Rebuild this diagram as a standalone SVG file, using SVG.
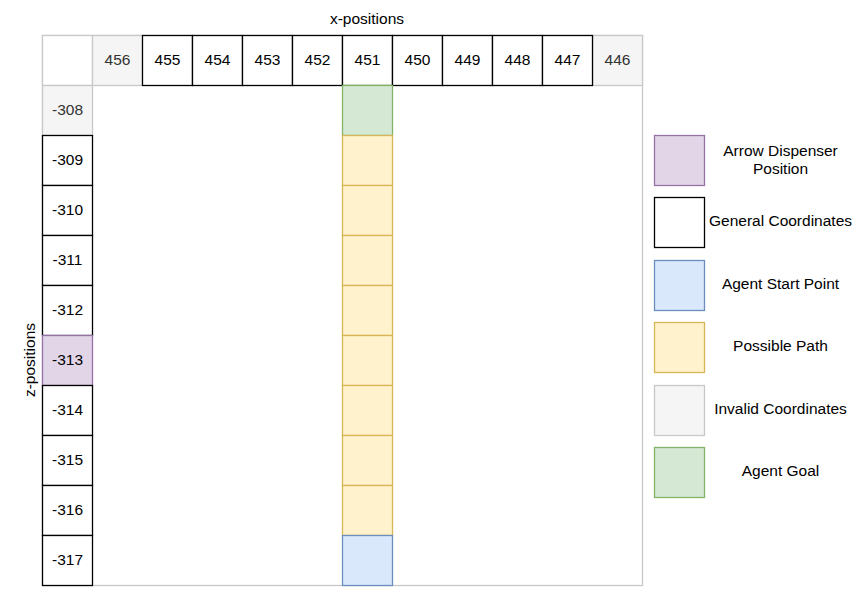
<svg xmlns="http://www.w3.org/2000/svg" width="858" height="595" viewBox="0 0 858 595">
<style>
text{font-family:"Liberation Sans",Arial,sans-serif;font-size:15.5px;fill:#000;text-anchor:middle}
.gen{fill:#ffffff;stroke:#000000;stroke-width:1.3}
.inv{fill:#f5f5f5;stroke:#c8c8c8;stroke-width:1.3}
.invt{fill:#333333}
.pur{fill:#e1d5e7;stroke:#9673a6;stroke-width:1.3}
.grn{fill:#d5e8d4;stroke:#82b366;stroke-width:1.3}
.yel{fill:#fff2cc;stroke:#d6b656;stroke-width:1.3}
.blu{fill:#dae8fc;stroke:#6c8ebf;stroke-width:1.3}
.frame{fill:#ffffff;stroke:#c8c8c8;stroke-width:1.3}
</style>
<g id="grid-frame"><rect class="frame" x="42.5" y="35.5" width="600" height="550"/></g>
<g id="axis-labels">
<text x="367" y="24">x-positions</text>
<text transform="translate(35,360) rotate(-90)" x="0" y="0">z-positions</text>
</g>
<g id="corner"><rect class="frame" x="42.5" y="35.5" width="50" height="50"/></g>
<g id="x-456"><rect class="inv" x="92.5" y="35.5" width="50" height="50"/><text class="invt" x="117.5" y="64.5">456</text></g>
<g id="x-446"><rect class="inv" x="592.5" y="35.5" width="50" height="50"/><text class="invt" x="617.5" y="64.5">446</text></g>
<g id="z-308"><rect class="inv" x="42.5" y="85.5" width="50" height="50"/><text class="invt" x="67.5" y="114.5">-308</text></g>
<g id="x-455"><rect class="gen" x="142.5" y="35.5" width="50" height="50"/><text x="167.5" y="64.5">455</text></g>
<g id="x-454"><rect class="gen" x="192.5" y="35.5" width="50" height="50"/><text x="217.5" y="64.5">454</text></g>
<g id="x-453"><rect class="gen" x="242.5" y="35.5" width="50" height="50"/><text x="267.5" y="64.5">453</text></g>
<g id="x-452"><rect class="gen" x="292.5" y="35.5" width="50" height="50"/><text x="317.5" y="64.5">452</text></g>
<g id="x-451"><rect class="gen" x="342.5" y="35.5" width="50" height="50"/><text x="367.5" y="64.5">451</text></g>
<g id="x-450"><rect class="gen" x="392.5" y="35.5" width="50" height="50"/><text x="417.5" y="64.5">450</text></g>
<g id="x-449"><rect class="gen" x="442.5" y="35.5" width="50" height="50"/><text x="467.5" y="64.5">449</text></g>
<g id="x-448"><rect class="gen" x="492.5" y="35.5" width="50" height="50"/><text x="517.5" y="64.5">448</text></g>
<g id="x-447"><rect class="gen" x="542.5" y="35.5" width="50" height="50"/><text x="567.5" y="64.5">447</text></g>
<g id="z-309"><rect class="gen" x="42.5" y="135.5" width="50" height="50"/><text x="67.5" y="164.5">-309</text></g>
<g id="z-310"><rect class="gen" x="42.5" y="185.5" width="50" height="50"/><text x="67.5" y="214.5">-310</text></g>
<g id="z-311"><rect class="gen" x="42.5" y="235.5" width="50" height="50"/><text x="67.5" y="264.5">-311</text></g>
<g id="z-312"><rect class="gen" x="42.5" y="285.5" width="50" height="50"/><text x="67.5" y="314.5">-312</text></g>
<g id="z-313"><rect class="pur" x="42.5" y="335.5" width="50" height="50"/><text x="67.5" y="364.5">-313</text></g>
<g id="z-314"><rect class="gen" x="42.5" y="385.5" width="50" height="50"/><text x="67.5" y="414.5">-314</text></g>
<g id="z-315"><rect class="gen" x="42.5" y="435.5" width="50" height="50"/><text x="67.5" y="464.5">-315</text></g>
<g id="z-316"><rect class="gen" x="42.5" y="485.5" width="50" height="50"/><text x="67.5" y="514.5">-316</text></g>
<g id="z-317"><rect class="gen" x="42.5" y="535.5" width="50" height="50"/><text x="67.5" y="564.5">-317</text></g>
<g id="goal"><rect class="grn" x="342.5" y="85.5" width="50" height="50"/></g>
<g id="path-309"><rect class="yel" x="342.5" y="135.5" width="50" height="50"/></g>
<g id="path-310"><rect class="yel" x="342.5" y="185.5" width="50" height="50"/></g>
<g id="path-311"><rect class="yel" x="342.5" y="235.5" width="50" height="50"/></g>
<g id="path-312"><rect class="yel" x="342.5" y="285.5" width="50" height="50"/></g>
<g id="path-313"><rect class="yel" x="342.5" y="335.5" width="50" height="50"/></g>
<g id="path-314"><rect class="yel" x="342.5" y="385.5" width="50" height="50"/></g>
<g id="path-315"><rect class="yel" x="342.5" y="435.5" width="50" height="50"/></g>
<g id="path-316"><rect class="yel" x="342.5" y="485.5" width="50" height="50"/></g>
<g id="start"><rect class="blu" x="342.5" y="535.5" width="50" height="50"/></g>
<g id="legend-dispenser"><rect class="pur" x="654.5" y="135.5" width="50" height="50"/><text x="780.5" y="155.5">Arrow Dispenser</text><text x="780.5" y="173.5">Position</text></g>
<g id="legend-general"><rect class="gen" x="654.5" y="197.5" width="50" height="50"/><text x="780.5" y="226">General Coordinates</text></g>
<g id="legend-start"><rect class="blu" x="654.5" y="260.5" width="50" height="50"/><text x="780.5" y="289">Agent Start Point</text></g>
<g id="legend-path"><rect class="yel" x="654.5" y="322.5" width="50" height="50"/><text x="780.5" y="351">Possible Path</text></g>
<g id="legend-invalid"><rect class="inv" x="654.5" y="385.5" width="50" height="50"/><text x="780.5" y="414">Invalid Coordinates</text></g>
<g id="legend-goal"><rect class="grn" x="654.5" y="447.5" width="50" height="50"/><text x="780.5" y="476">Agent Goal</text></g>
<g id="connectors"/>
</svg>
